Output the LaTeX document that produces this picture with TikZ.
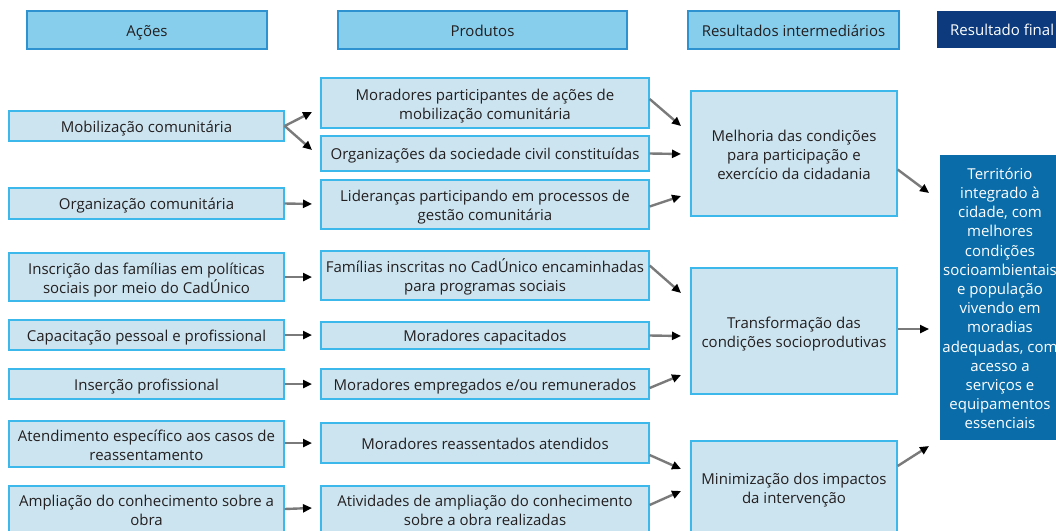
\documentclass[tikz,border=0pt]{standalone}
\usepackage{fontspec}
\setmainfont{Open Sans}
\usetikzlibrary{arrows.meta,calc}
\definecolor{hdrfill}{HTML}{87CEEC}
\definecolor{hdrline}{HTML}{2D92CF}
\definecolor{bxfill}{HTML}{CCE4EF}
\definecolor{bxline}{HTML}{3DB8EA}
\definecolor{finfill}{HTML}{0A6DAA}
\definecolor{navy}{HTML}{0C3A7C}
\definecolor{txt}{HTML}{231F20}
\definecolor{arrgray}{HTML}{7A7A7A}
\newcommand\lup{\rule{0pt}{17pt}}
\newcommand\ldn{\rule[-4pt]{0pt}{4pt}}
\tikzset{
  even/.style={execute at begin node={\rule{0pt}{16pt}}, execute at end node={\rule[-4pt]{0pt}{4pt}}},
  bx/.style={draw=bxline, line width=1.3pt, fill=bxfill, inner sep=0pt, align=center,
    text=txt, font=\fontsize{15}{19}\selectfont, even},
  hdr/.style={draw=hdrline, line width=1.3pt, fill=hdrfill, inner sep=0pt, align=center,
    text=txt, font=\fontsize{15}{19}\selectfont, even},
  arr/.style={draw=arrgray, line width=2.4pt, -{Triangle[length=9pt,width=8pt,color=black]}},
}
\begin{document}
\begin{tikzpicture}[x=1pt,y=-1pt]
\useasboundingbox (0,0) rectangle (1056,530);
\begin{scope}
\clip (0,0) rectangle (1056,530);
% headers
\node[hdr, minimum width=240, minimum height=38] (h1) at (147,30) {Ações};
\node[hdr, minimum width=289, minimum height=38] (h2) at (482.5,30) {Produtos};
\node[hdr, minimum width=211, minimum height=38] (h3) at (793.5,30) {Resultados intermediários};
\node[fill=navy, text=white, inner sep=0pt, minimum width=134, minimum height=37, anchor=north west,
  font=\fontsize{15}{19}\selectfont, even] (h4) at (937,11) {\hspace*{13pt}Resultado final\hspace*{30pt}};
% actions
\node[bx, minimum width=275, minimum height=30] (a1) at (146.5,126) {Mobilização comunitária};
\node[bx, minimum width=275, minimum height=31] (a2) at (146.5,203.5) {Organização comunitária};
\node[bx, minimum width=275, minimum height=48] (a3) at (146.5,277) {\lup Inscrição das famílias em políticas\\sociais por meio do CadÚnico\ldn};
\node[bx, minimum width=275, minimum height=30] (a4) at (146.5,335) {Capacitação pessoal e profissional};
\node[bx, minimum width=275, minimum height=30] (a5) at (146.5,384) {Inserção profissional};
\node[bx, minimum width=275, minimum height=46] (a6) at (146.5,444) {\lup Atendimento específico aos casos de\\reassentamento\ldn};
\node[bx, minimum width=275, minimum height=46] (a7) at (146.5,509) {\lup Ampliação do conhecimento sobre a\\obra\ldn};
% products
\node[bx, minimum width=328, minimum height=50] (b1) at (485,103) {\lup Moradores participantes de ações de\\mobilização comunitária\ldn};
\node[bx, minimum width=328, minimum height=35] (b2) at (485,153.5) {Organizações da sociedade civil constituídas};
\node[bx, minimum width=328, minimum height=49] (b3) at (485,204.5) {\lup Lideranças participando em processos de\\gestão comunitária\ldn};
\node[bx, minimum width=328, minimum height=49] (b4) at (485,275.5) {\lup Famílias inscritas no CadÚnico encaminhadas\\para programas sociais\ldn};
\node[bx, minimum width=328, minimum height=27] (b5) at (485,335.5) {Moradores capacitados};
\node[bx, minimum width=328, minimum height=30] (b6) at (485,384) {Moradores empregados e/ou remunerados};
\node[bx, minimum width=328, minimum height=40] (b7) at (485,443) {Moradores reassentados atendidos};
\node[bx, minimum width=328, minimum height=46] (b8) at (485,509) {\lup Atividades de ampliação do conhecimento\\sobre a obra realizadas\ldn};
% intermediate results
\node[bx, minimum width=206, minimum height=125] (c1) at (794,153.5) {\lup Melhoria das condições\\para participação e\\exercício da cidadania\ldn};
\node[bx, minimum width=206, minimum height=126] (c2) at (794,331) {\lup Transformação das\\condições socioprodutivas\ldn};
\node[bx, minimum width=206, minimum height=92] (c3) at (794,487) {\lup Minimização dos impactos\\da intervenção\ldn};
% final
\node[fill=finfill, text=white, inner sep=0pt, minimum width=120, minimum height=285, align=center,
  font=\fontsize{15}{19.2}\selectfont] (d1) at (1000,297.5)
  {\lup Território\\integrado à\\cidade, com\\melhores\\condições\\socioambientais\\e população\\vivendo em\\moradias\\adequadas, com\\acesso a\\serviços e\\equipamentos\\essenciais\ldn};
\end{scope}
% arrow end points
\coordinate (e1) at (312,112);
\coordinate (e2) at (312,150);
\coordinate (e3) at (312,204);
\coordinate (e4) at (312,277);
\coordinate (e5) at (312,335);
\coordinate (e6) at (312,384);
\coordinate (e7) at (312,443);
\coordinate (e8) at (312,508);
\coordinate (f1) at (681,126);
\coordinate (f2) at (681,154);
\coordinate (f3) at (681,196);
\coordinate (f4) at (681,293);
\coordinate (f5) at (681,336);
\coordinate (f6) at (681,375);
\coordinate (f7) at (681,469);
\coordinate (f8) at (681,491);
\coordinate (g1) at (929,193);
\coordinate (g2) at (929,329);
\coordinate (g3) at (929,446);
% arrows actions -> products
\draw[arr] (a1.east) -- (e1);
\draw[arr] (a1.east) -- (e2);
\draw[arr] (a2.east) -- (e3);
\draw[arr] (a3.east) -- (e4);
\draw[arr] (a4.east) -- (e5);
\draw[arr] (a5.east) -- (e6);
\draw[arr] ($(a6.east)+(0,-1)$) -- (e7);
\draw[arr] (a7.east) -- (e8);
% products -> intermediate
\draw[arr] ($(b1.east)+(0,-4)$) -- (f1);
\draw[arr] (b2.east) -- (f2);
\draw[arr] ($(b3.east)+(0,2)$) -- (f3);
\draw[arr] ($(b4.east)+(0,-10)$) -- (f4);
\draw[arr] (b5.east) -- (f5);
\draw[arr] ($(b6.east)+(0,4)$) -- (f6);
\draw[arr] ($(b7.east)+(0,12)$) -- (f7);
\draw[arr] ($(b8.east)+(0,-4)$) -- (f8);
% intermediate -> final
\draw[arr] ($(c1.east)+(0,16)$) -- (g1);
\draw[arr] ($(c2.east)+(0,-2)$) -- (g2);
\draw[arr] ($(c3.east)+(0,-21)$) -- (g3);
\end{tikzpicture}
\end{document}
